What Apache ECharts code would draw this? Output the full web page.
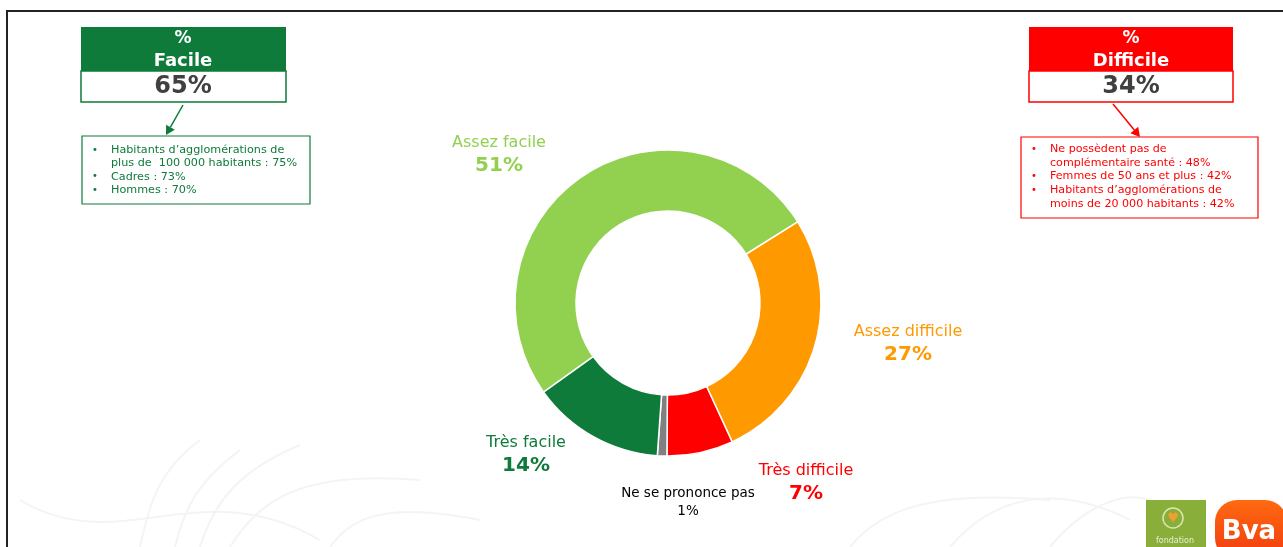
<!DOCTYPE html>
<html>
<head>
<meta charset="utf-8">
<script src="https://cdn.jsdelivr.net/npm/echarts@6/dist/echarts.min.js"></script>
<style>
html,body{margin:0;padding:0;background:#fff;}
#chart{width:1283px;height:547px;}
</style>
</head>
<body>
<div id="chart"></div>
<script>
// ---- data ----
var categories = ['Assez facile', 'Assez difficile', 'Très difficile', 'Ne se prononce pas', 'Très facile'];
var values = [51, 27, 7, 1, 14];
var sliceColors = ['#92D050', '#FF9900', '#FF0000', '#808080', '#0E7B3A'];
var labelColors = ['#92D050', '#FF9900', '#FF0000', '#000000', '#0E7B3A'];

var facileTitle = ['%', 'Facile'];
var facileTotal = '65%';
var facileDetails = [
  ['Habitants d\u2019agglomérations de', 'plus de  100 000 habitants : 75%'],
  ['Cadres : 73%'],
  ['Hommes : 70%']
];
var difficileTitle = ['%', 'Difficile'];
var difficileTotal = '34%';
var difficileDetails = [
  ['Ne possèdent pas de', 'complémentaire santé : 48%'],
  ['Femmes de 50 ans et plus : 42%'],
  ['Habitants d\u2019agglomérations de', 'moins de 20 000 habitants : 42%']
];

// ---- layout (text positions) ----
var labelPos = [[499, 155], [908, 344], [806, 483], [688, 502], [526, 455]];

var FONT = '"DejaVu Sans", Verdana, sans-serif';
var GREEN = '#0E7B3A', RED = '#FF0000';

function bulletBlock(items, x, y, color, lh, fs) {
  var els = [];
  var row = 0;
  items.forEach(function (lines) {
    els.push({type: 'text', style: {x: x, y: y + row * lh, text: '\u2022', fill: color, font: '10px ' + FONT, textVerticalAlign: 'middle'}});
    lines.forEach(function (ln) {
      els.push({type: 'text', style: {x: x + 19, y: y + row * lh, text: ln, fill: color, font: fs + 'px ' + FONT, textVerticalAlign: 'middle'}});
      row++;
    });
  });
  return els;
}

function sideBox(cx, left, right, color, title, total) {
  return [
    {type: 'rect', shape: {x: left, y: 27, width: right - left, height: 44}, style: {fill: color}},
    {type: 'rect', shape: {x: left, y: 71, width: right - left, height: 31}, style: {fill: '#fff', stroke: color, lineWidth: 1.5}},
    {type: 'text', style: {x: cx, y: 39, text: title[0], fill: '#fff', font: 'bold 17px ' + FONT, textAlign: 'center', textVerticalAlign: 'middle'}},
    {type: 'text', style: {x: cx, y: 61, text: title[1], fill: '#fff', font: 'bold 18px ' + FONT, textAlign: 'center', textVerticalAlign: 'middle'}},
    {type: 'text', style: {x: cx, y: 87, text: total, fill: '#404040', font: 'bold 24px ' + FONT, textAlign: 'center', textVerticalAlign: 'middle'}}
  ];
}

function arrow(x1, y1, x2, y2, color) {
  var ang = Math.atan2(y2 - y1, x2 - x1);
  var L = 9, W = 5;
  var bx = x2 - L * Math.cos(ang), by = y2 - L * Math.sin(ang);
  var px = -Math.sin(ang) * W, py = Math.cos(ang) * W;
  return [
    {type: 'line', shape: {x1: x1, y1: y1, x2: bx, y2: by}, style: {stroke: color, lineWidth: 1.5}},
    {type: 'polygon', shape: {points: [[x2, y2], [bx + px, by + py], [bx - px, by - py]]}, style: {fill: color}}
  ];
}

var graphics = [];
// faint background waves
var waves = [
  [[20, 500], [120, 560], [200, 470], [320, 540]],
  [[140, 547], [150, 500], [160, 470], [200, 440]],
  [[175, 547], [185, 505], [200, 480], [240, 450]],
  [[200, 547], [215, 500], [240, 470], [300, 445]],
  [[230, 547], [260, 500], [300, 470], [420, 480]],
  [[330, 547], [350, 520], [380, 500], [480, 520]],
  [[850, 547], [880, 510], [930, 490], [1050, 500]],
  [[950, 547], [990, 500], [1050, 480], [1130, 520]],
  [[1050, 547], [1080, 510], [1120, 490], [1150, 500]]
];
waves.forEach(function (w) {
  graphics.push({type: 'bezierCurve', silent: true, z: -1,
    shape: {x1: w[0][0], y1: w[0][1], cpx1: w[1][0], cpy1: w[1][1], cpx2: w[2][0], cpy2: w[2][1], x2: w[3][0], y2: w[3][1]},
    style: {stroke: '#F4F4F4', lineWidth: 2, fill: null}});
});
// frame
graphics.push({type: 'polyline', shape: {points: [[7, 547], [7, 11], [1283, 11]]}, style: {stroke: '#222', lineWidth: 2, fill: null}});
// left box
graphics = graphics.concat(sideBox(183, 81, 286, GREEN, facileTitle, facileTotal));
graphics = graphics.concat(arrow(183, 105, 166, 135, GREEN));
graphics.push({type: 'rect', shape: {x: 82, y: 136, width: 228, height: 68}, style: {fill: '#fff', stroke: GREEN, lineWidth: 1.2}});
graphics = graphics.concat(bulletBlock(facileDetails, 92, 150, GREEN, 13.4, 11.2));
// right box
graphics = graphics.concat(sideBox(1131, 1029, 1233, RED, difficileTitle, difficileTotal));
graphics = graphics.concat(arrow(1113, 104, 1140, 137, RED));
graphics.push({type: 'rect', shape: {x: 1021, y: 137, width: 237, height: 81}, style: {fill: '#fff', stroke: RED, lineWidth: 1.2}});
graphics = graphics.concat(bulletBlock(difficileDetails, 1031, 149, RED, 13.8, 11.1));
// logos
graphics.push({type: 'rect', shape: {x: 1146, y: 500, width: 60, height: 47}, style: {fill: '#8AAE3A'}});
graphics.push({type: 'circle', shape: {cx: 1173, cy: 518, r: 10}, style: {fill: null, stroke: '#D8E6B0', lineWidth: 1.5}});
graphics.push({type: 'text', style: {x: 1173, y: 519, text: '\u2665', fill: '#F0A030', font: '13px ' + FONT, textAlign: 'center', textVerticalAlign: 'middle'}});
graphics.push({type: 'text', style: {x: 1175, y: 541, text: 'fondation', fill: '#E8F0D0', font: '8px ' + FONT, textAlign: 'center', textVerticalAlign: 'middle'}});
graphics.push({type: 'rect', shape: {x: 1215, y: 500, width: 72, height: 60, r: 22},
  style: {fill: new echarts.graphic.LinearGradient(0, 0, 0, 1, [{offset: 0, color: '#FF6A10'}, {offset: 1, color: '#F03A10'}])}});
graphics.push({type: 'text', style: {x: 1249, y: 532, text: 'Bva', fill: '#fff', font: 'bold 26px ' + FONT, textAlign: 'center', textVerticalAlign: 'middle'}});

var chart = echarts.init(document.getElementById('chart'), null, {renderer: 'canvas'});
chart.setOption({
  animation: false,
  backgroundColor: '#fff',
  graphic: {elements: graphics},
  series: [{
    type: 'pie',
    center: [668, 303],
    radius: [92, 153],
    startAngle: 215.6,
    clockwise: true,
    avoidLabelOverlap: false,
    itemStyle: {borderColor: '#fff', borderWidth: 1.5},
    labelLine: {show: false},
    label: {
      show: true,
      position: 'outside',
      formatter: function (p) {
        return p.dataIndex === 3 ? '{s|' + p.name + '}\n{s|' + p.value + '%}' : '{n|' + p.name + '}\n{v|' + p.value + '%}';
      },
      rich: {
        n: {fontFamily: FONT, fontSize: 16, lineHeight: 22, align: 'center'},
        v: {fontFamily: FONT, fontSize: 20, fontWeight: 'bold', lineHeight: 24, align: 'center'},
        s: {fontFamily: FONT, fontSize: 13.5, lineHeight: 18, align: 'center', color: '#000'}
      }
    },
    labelLayout: function (p) {
      var pos = labelPos[p.dataIndex];
      return {x: pos[0], y: pos[1], align: 'center', verticalAlign: 'middle'};
    },
    data: categories.map(function (c, i) {
      return {name: c, value: values[i], itemStyle: {color: sliceColors[i]}, label: {color: labelColors[i]}};
    })
  }]
});
</script>
</body>
</html>
